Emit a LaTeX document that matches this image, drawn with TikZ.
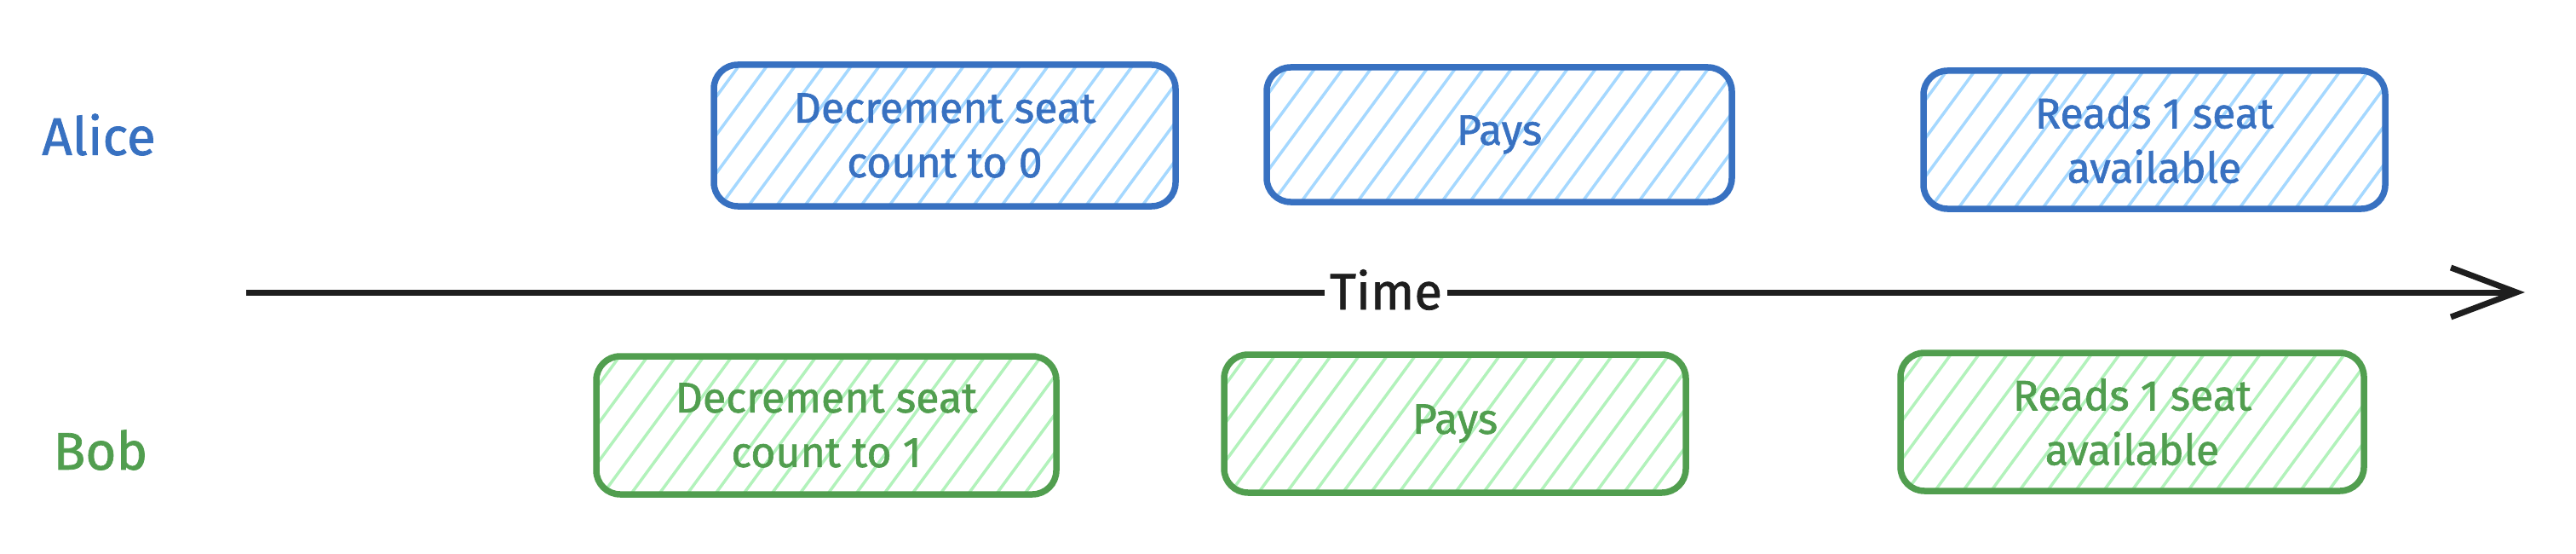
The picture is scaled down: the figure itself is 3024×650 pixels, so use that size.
\documentclass[tikz,border=0pt]{standalone}
\usepackage{fontspec}
\setmainfont{Fira Sans}[FakeBold=1.2]
\usetikzlibrary{arrows.meta,calc}
\definecolor{bluestroke}{HTML}{3871C1}
\definecolor{bluefill}{HTML}{A5D8FF}
\definecolor{greenstroke}{HTML}{519E4F}
\definecolor{greenfill}{HTML}{B2F2BB}
\definecolor{ink}{HTML}{1E1E1E}
\tikzset{
  hatch/.style={path picture={
     \foreach \k in {-6,...,18} {
       \draw[#1, line width=3.5pt] ($(path picture bounding box.south west)+(\k*33,-10)$) -- ++(147,200);
     }}},
  card/.style={rounded corners=28pt, line width=7.5pt, minimum width=542pt,
    minimum height=162pt, align=center, inner sep=0pt,
    font=\fontsize{50}{64}\selectfont},
  alicebox/.style={card, draw=bluestroke, text=bluestroke, hatch=bluefill},
  bobbox/.style={card, draw=greenstroke, text=greenstroke, hatch=greenfill},
  who/.style={font=\fontsize{62}{64}\selectfont, inner sep=0pt},
  axis/.style={draw=ink, line width=7pt},
}
\begin{document}
\begin{tikzpicture}[x=1pt,y=1pt]
\useasboundingbox (0,0) rectangle (3024,-650);
% lane labels
\node[who, text=bluestroke] (alice) at (116,-158) {Alice};
\node[who, text=greenstroke] (bob) at (118,-528) {Bob};
% Alice lane
\node[alicebox, minimum height=166pt] (a1) at (1109,-159) {Decrement seat\\count to 0};
\node[alicebox, minimum width=546pt, minimum height=158pt] (a2) at (1760,-158) {Pays};
\node[alicebox] (a3) at (2529,-164) {Reads 1 seat\\available};
% Bob lane
\node[bobbox, minimum width=540pt, minimum height=162pt] (b1) at (970,-499) {Decrement seat\\count to 1};
\node[bobbox] (b2) at (1708,-497) {Pays};
\node[bobbox, minimum width=544pt] (b3) at (2503,-495) {Reads 1 seat\\available};
% time axis
\coordinate (tstart) at (289,-343);
\coordinate (tend) at (2964,-343);
\node[font=\fontsize{60}{64}\selectfont, text=ink, inner xsep=6pt, inner ysep=0pt] (time) at (1627,-340) {Time};
\draw[axis] (tstart) -- (tstart -| time.west);
\draw[axis, -{Straight Barb[length=77pt, width=58pt, line width=7pt]}] (tstart -| time.east) -- (tend);
\end{tikzpicture}
\end{document}
